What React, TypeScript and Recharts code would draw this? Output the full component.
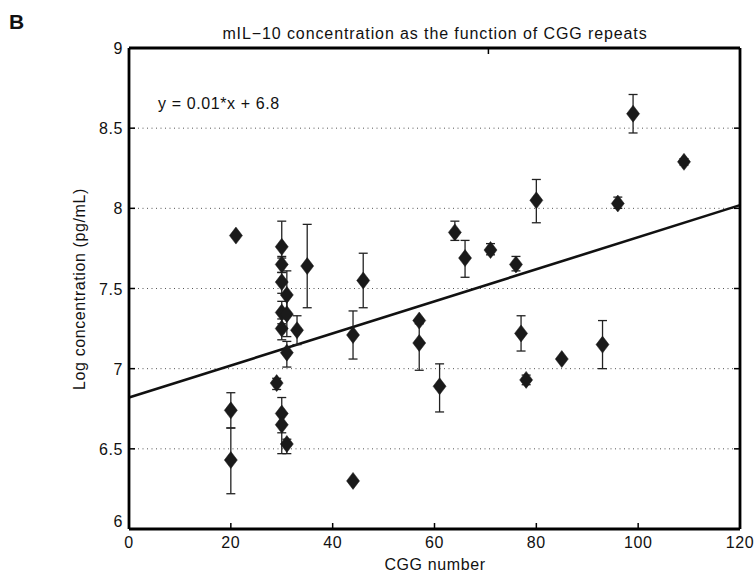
import React from 'react';
import {
  ComposedChart,
  Scatter,
  XAxis,
  YAxis,
  CartesianGrid,
  ErrorBar,
  ReferenceLine,
} from 'recharts';

// CGG repeat numbers
const cggNumbers = [
  20, 20, 21, 29, 30, 30, 30, 30, 30, 30, 30, 31, 31, 31, 31, 33, 35, 44, 44, 46,
  57, 57, 61, 64, 66, 71, 76, 77, 78, 80, 85, 93, 96, 99, 109,
];
// Log concentration means
const logConc = [
  6.74, 6.43, 7.83, 6.91, 7.76, 7.65, 7.54, 7.35, 7.25, 6.72, 6.65, 7.46, 7.34, 7.1, 6.53, 7.24, 7.64, 7.21, 6.3, 7.55,
  7.3, 7.16, 6.89, 7.85, 7.69, 7.74, 7.65, 7.22, 6.93, 8.05, 7.06, 7.15, 8.03, 8.59, 8.29,
];
// Lower end of error bars
const errLow = [
  6.63, 6.22, 7.83, 6.87, 7.69, 7.6, 7.47, 7.28, 7.18, 6.6, 6.47, 7.35, 7.2, 7.01, 6.47, 7.15, 7.38, 7.06, 6.3, 7.38,
  7.28, 6.99, 6.73, 7.8, 7.57, 7.71, 7.61, 7.11, 6.9, 7.91, 7.06, 7.0, 8.0, 8.47, 8.27,
];
// Upper end of error bars
const errHigh = [
  6.85, 6.63, 7.83, 6.94, 7.92, 7.7, 7.6, 7.42, 7.31, 6.82, 6.71, 7.61, 7.45, 7.17, 6.56, 7.33, 7.9, 7.36, 6.3, 7.72,
  7.31, 7.3, 7.03, 7.92, 7.8, 7.78, 7.7, 7.33, 6.96, 8.18, 7.06, 7.3, 8.07, 8.71, 8.31,
];

const xTicks = [0, 20, 40, 60, 80, 100, 120];
const yTicks = [6, 6.5, 7, 7.5, 8, 8.5, 9];
const yTickLabels = ['6', '6.5', '7', '7.5', '8', '8.5', '9'];

// Regression line endpoints
const fitX = [0, 120];
const fitY = [6.82, 8.02];

const data = cggNumbers.map((x, i) => ({
  x,
  y: logConc[i],
  err: [logConc[i] - errLow[i], errHigh[i] - logConc[i]],
}));

const FONT = '"Liberation Sans", Arial, Helvetica, sans-serif';

const BottomTick = (props: any) => {
  const { x, y, payload } = props;
  const v = payload.value;
  const inner = v !== 0 && v !== 120;
  return (
    <g>
      {inner && <line x1={x} x2={x} y1={y} y2={y - 6} stroke="#000" strokeWidth={1.5} />}
      <text x={x} y={y + 19} textAnchor="middle" fontSize={16} fontFamily={FONT} fill="#111" letterSpacing={0.6}>
        {v}
      </text>
    </g>
  );
};

const TopTick = (props: any) => {
  const { x, y, payload } = props;
  const v = payload.value;
  if (v === 0 || v === 120) return <g />;
  return <line x1={x} x2={x} y1={y} y2={y + 6} stroke="#000" strokeWidth={1.5} />;
};

const LeftTick = (props: any) => {
  const { x, y, payload } = props;
  const v = payload.value;
  const idx = yTicks.indexOf(v);
  const inner = v !== 6 && v !== 9;
  return (
    <g>
      {inner && <line x1={x} x2={x + 6} y1={y} y2={y} stroke="#000" strokeWidth={1.5} />}
      <text
        x={x - 6}
        y={v === 6 ? y - 2 : y + 6}
        textAnchor="end"
        fontSize={16}
        fontFamily={FONT}
        fill="#111"
        letterSpacing={0.6}
      >
        {idx >= 0 ? yTickLabels[idx] : v}
      </text>
    </g>
  );
};

const RightTick = (props: any) => {
  const { x, y, payload } = props;
  const v = payload.value;
  if (v === 6 || v === 9) return <g />;
  return <line x1={x} x2={x - 6} y1={y} y2={y} stroke="#000" strokeWidth={1.5} />;
};

const Diamond = (props: any) => {
  const { cx, cy } = props;
  if (cx == null || cy == null) return <g />;
  const hw = 6.5;
  const hh = 8.5;
  return (
    <polygon
      points={`${cx},${cy - hh} ${cx + hw},${cy} ${cx},${cy + hh} ${cx - hw},${cy}`}
      fill="#1a1a1a"
      stroke="#1a1a1a"
      strokeWidth={0.5}
    />
  );
};

export default function App() {
  return (
    <div style={{ position: 'absolute', left: 0, top: 0, width: 755, height: 575, background: '#fff', overflow: 'hidden' }}>
      <ComposedChart
        width={755}
        height={575}
        margin={{ top: 43, right: 10, bottom: 16, left: 69 }}
        data={data}
      >
        <CartesianGrid
          horizontal
          vertical={false}
          stroke="#555"
          strokeDasharray="1 3.5"
          strokeWidth={1}
        />
        <XAxis
          type="number"
          dataKey="x"
          domain={[0, 120]}
          ticks={xTicks}
          allowDataOverflow
          height={30}
          tickSize={0}
          tickMargin={0}
          tickLine={false}
          axisLine={{ stroke: '#000', strokeWidth: 2.8 }}
          tick={<BottomTick />}
          interval={0}
        />
        <XAxis
          xAxisId="t"
          orientation="top"
          type="number"
          domain={[0, 120]}
          ticks={xTicks}
          allowDataOverflow
          height={5}
          tickSize={0}
          tickMargin={0}
          tickLine={false}
          axisLine={{ stroke: '#000', strokeWidth: 2.8 }}
          tick={<TopTick />}
          interval={0}
        />
        <YAxis
          type="number"
          dataKey="y"
          domain={[6, 9]}
          ticks={yTicks}
          allowDataOverflow
          width={60}
          tickSize={0}
          tickMargin={0}
          tickLine={false}
          axisLine={{ stroke: '#000', strokeWidth: 2.8 }}
          tick={<LeftTick />}
          interval={0}
        />
        <YAxis
          yAxisId="r"
          orientation="right"
          type="number"
          domain={[6, 9]}
          ticks={yTicks}
          allowDataOverflow
          width={5}
          tickSize={0}
          tickMargin={0}
          tickLine={false}
          axisLine={{ stroke: '#000', strokeWidth: 2.8 }}
          tick={<RightTick />}
          interval={0}
        />
        <ReferenceLine
          segment={[
            { x: fitX[0], y: fitY[0] },
            { x: fitX[1], y: fitY[1] },
          ]}
          stroke="#111"
          strokeWidth={2.6}
          ifOverflow="visible"
        />
        <Scatter data={data} dataKey="y" shape={<Diamond />} isAnimationActive={false}>
          <ErrorBar dataKey="err" direction="y" width={4.5} stroke="#222" strokeWidth={1.3} />
        </Scatter>
      </ComposedChart>

      <div style={{ position: 'absolute', left: 9, top: 11, fontFamily: FONT, fontWeight: 'bold', fontSize: 21, lineHeight: '21px', color: '#111' }}>
        B
      </div>
      <div
        style={{
          position: 'absolute',
          left: 135,
          width: 600,
          top: 26,
          textAlign: 'center',
          fontFamily: FONT,
          fontSize: 16,
          lineHeight: '16px',
          letterSpacing: 0.9,
          color: '#111',
          whiteSpace: 'nowrap',
        }}
      >
        mIL−10 concentration as the function of CGG repeats
      </div>
      <div
        style={{
          position: 'absolute',
          left: 158,
          top: 96,
          fontFamily: FONT,
          fontSize: 16,
          lineHeight: '16px',
          letterSpacing: 0.6,
          color: '#111',
          whiteSpace: 'nowrap',
        }}
      >
        y = 0.01*x + 6.8
      </div>
      <div
        style={{
          position: 'absolute',
          left: 235,
          width: 400,
          top: 557,
          textAlign: 'center',
          fontFamily: FONT,
          fontSize: 16,
          lineHeight: '16px',
          letterSpacing: 0.6,
          color: '#111',
          whiteSpace: 'nowrap',
        }}
      >
        CGG number
      </div>
      <div
        style={{
          position: 'absolute',
          left: 80 - 150,
          top: 289 - 8,
          width: 300,
          textAlign: 'center',
          fontFamily: FONT,
          fontSize: 16,
          lineHeight: '16px',
          letterSpacing: 0.6,
          color: '#111',
          whiteSpace: 'nowrap',
          transform: 'rotate(-90deg)',
          transformOrigin: '150px 8px',
        }}
      >
        Log concentration (pg/mL)
      </div>
    </div>
  );
}
